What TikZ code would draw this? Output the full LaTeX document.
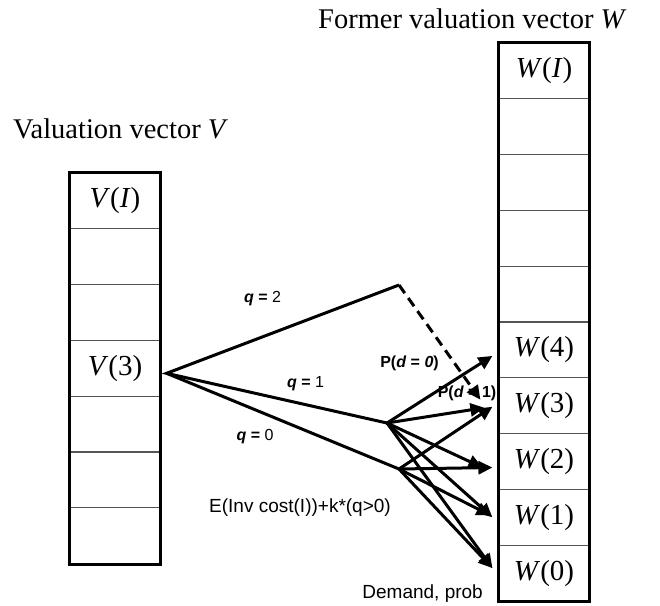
\documentclass[tikz,border=0pt]{standalone}
\usepackage{fontspec}
\setmainfont{Liberation Serif}
\setsansfont{Liberation Sans}
\usetikzlibrary{positioning,calc,arrows.meta,fit}
\definecolor{CellLine}{RGB}{85,85,85}

\begin{document}
\begin{tikzpicture}[
    x=1pt,
    y=-1pt,
    >={Triangle[length=14pt,width=13pt]},
    cell/.style={
        draw=CellLine,
        line width=1.2pt,
        minimum width=90pt,
        minimum height=55.8pt,
        inner sep=0pt,
        font=\fontsize{29}{30}\selectfont
    },
    frame/.style={
        draw,
        line width=2.6pt,
        inner sep=0pt
    },
    branch/.style={
        line width=3pt
    },
    arrow/.style={
        ->,
        line width=3pt
    },
    title/.style={
        font=\fontsize{28.5}{30}\selectfont,
        anchor=base west,
        inner sep=0pt
    },
    qlabel/.style={
        font=\sffamily\fontsize{16}{18}\selectfont,
        inner sep=0pt
    },
    note/.style={
        font=\sffamily\fontsize{19}{21}\selectfont,
        inner sep=0pt
    }
]
\useasboundingbox (0,0) rectangle (660,605);

% valuation vector V
\foreach \i/\txt in {0/{\textit{V}(\textit{I})},1/{},2/{},3/{\textit{V}(3)},4/{},5/{},6/{}}
    \node[cell] (v\i) at (115,200.9+55.8*\i) {\txt};
\node[frame, fit=(v0)(v6)] (vframe) {};
\node[title] (vtitle) at (13,138) {Valuation vector \textit{V}};

% former valuation vector W
\foreach \i/\txt in {0/{\textit{W}(\textit{I})},1/{},2/{},3/{},4/{},5/{\textit{W}(4)},6/{\textit{W}(3)},7/{\textit{W}(2)},8/{\textit{W}(1)},9/{\textit{W}(0)}}
    \node[cell] (w\i) at (544,70.9+55.8*\i) {\txt};
\node[frame, fit=(w0)(w9)] (wframe) {};
\node[title] (wtitle) at (318,28) {Former valuation vector \textit{W}};

% order quantities
\coordinate (apex) at ($(v3.east)+(6,5)$);
\coordinate (q2) at (399,285);
\coordinate (q1) at (387,423);
\coordinate (q0) at (399,469);

\draw[branch] (q2) -- (apex) -- (q1);
\draw[branch] (apex) -- (q0);
\draw[arrow, dash pattern=on 10pt off 6pt] (q2) -- ($(w6.west)+(-18,-6)$);

% demand outcomes
\draw[arrow] (q1) -- ($(w5.west)+(-6,6)$);
\draw[arrow] (q1) -- ($(w6.west)+(-14,2)$);
\draw[arrow] (q1) -- ($(w7.west)+(-16,6)$);
\draw[arrow] (q1) -- ($(w8.west)+(-6,0)$);
\draw[arrow] (q1) -- ($(w9.west)+(-6,-5)$);

\draw[arrow] (q0) -- ($(w6.west)+(-6,1)$);
\draw[arrow] (q0) -- ($(w7.west)+(-6,6)$);
\draw[arrow] (q0) -- ($(w8.west)+(-8,-2)$);
\draw[arrow] (q0) -- ($(w9.west)+(-6,-5)$);

% labels
\node[qlabel] (lq2) at (262.5,299) {\textbf{\textit{q}} \textbf{=} 2};
\node[qlabel] (lq1) at (305.5,384) {\textbf{\textit{q}} \textbf{=} 1};
\node[qlabel] (lq0) at (255,437) {\textbf{\textit{q}} \textbf{=} 0};
\node[qlabel] (pd0) at (409.5,363) {\textbf{P(\textit{d} = \textit{0})}};
\node[qlabel] (pd1) at (467,393) {\textbf{P(\textit{d} = 1)}};
\node[note] (cost) at (300,508) {E(Inv cost(I))+k*(q>0)};
\node[note, anchor=base east] (demand) at (483,598) {Demand, prob};

\end{tikzpicture}
\end{document}
